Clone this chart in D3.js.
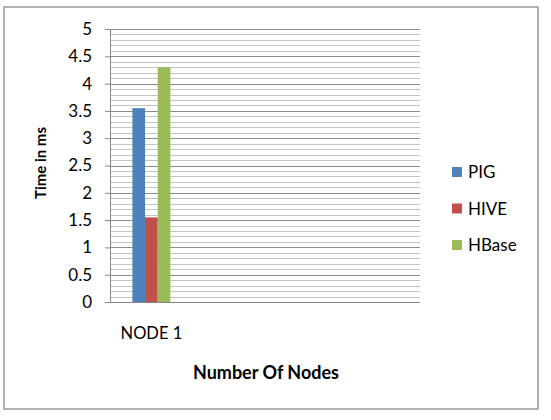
<!DOCTYPE html>
<html>
<head>
<meta charset="utf-8">
<script src="https://cdn.jsdelivr.net/npm/d3@7"></script>
<style>
  body { margin: 0; background: #fff; }
  text { font-family: Lato, "Open Sans", sans-serif; fill: #000; }
</style>
</head>
<body>
<div class="chart"></div>
<script>
// data
const categories = ["NODE 1"];
const seriesNames = ["PIG", "HIVE", "HBase"];
const pigValues = [3.55];
const hiveValues = [1.55];
const hbaseValues = [4.3];
const yTicks = [0, 0.5, 1, 1.5, 2, 2.5, 3, 3.5, 4, 4.5, 5];
const colors = ["#4F81BD", "#C0504D", "#9BBB59"];

const width = 551, height = 420;
const plot = { left: 110, right: 420, top: 29, bottom: 302 };
const slots = 4; // category slots on the axis, only the first one used

const svg = d3.select('.chart').append('svg')
  .attr('width', width).attr('height', height);

// outer frame
svg.append('rect')
  .attr('x', 4).attr('y', 7).attr('width', 534).attr('height', 402)
  .attr('fill', 'none').attr('stroke', '#999').attr('stroke-width', 1.5);

const yScale = d3.scaleLinear()
  .domain([0, 5])
  .range([plot.bottom, plot.top]);

const xSlot = d3.scaleBand()
  .domain(d3.range(slots))
  .range([113, plot.right]);

const xSeries = d3.scaleBand()
  .domain(seriesNames)
  .range([0, 38]);

// minor gridlines
const minor = d3.range(1, 50).map(i => i / 10).filter(v => Math.abs(v * 2 - Math.round(v * 2)) > 0.01);
svg.append('g').selectAll('line')
  .data(minor)
  .join('line')
  .attr('x1', plot.left).attr('x2', plot.right)
  .attr('y1', d => Math.round(yScale(d)) + 0.5)
  .attr('y2', d => Math.round(yScale(d)) + 0.5)
  .attr('stroke', '#c4c4c4')
  .attr('stroke-width', 1);

// major gridlines
svg.append('g').selectAll('line')
  .data(yTicks.slice(1))
  .join('line')
  .attr('x1', plot.left).attr('x2', plot.right)
  .attr('y1', d => Math.round(yScale(d)) + 0.5)
  .attr('y2', d => Math.round(yScale(d)) + 0.5)
  .attr('stroke', '#8c8c8c')
  .attr('stroke-width', 1.2);

// bars
const barData = [pigValues, hiveValues, hbaseValues];
barData.forEach((vals, s) => {
  svg.append('g').selectAll('rect')
    .data(vals)
    .join('rect')
    .attr('x', (d, i) => xSlot(i) + xSlot.bandwidth() / 2 - 19 + xSeries(seriesNames[s]))
    .attr('y', d => yScale(d))
    .attr('width', xSeries.bandwidth())
    .attr('height', d => yScale(0) - yScale(d))
    .attr('fill', colors[s]);
});

// y axis
const yAxis = d3.axisLeft(yScale)
  .tickValues(yTicks)
  .tickSize(5)
  .tickPadding(13)
  .tickFormat(d3.format(''));
const gy = svg.append('g')
  .attr('transform', 'translate(' + plot.left + ',0)')
  .call(yAxis);
gy.select('.domain').attr('stroke', '#888');
gy.selectAll('.tick line').attr('stroke', '#888');
gy.selectAll('.tick text')
  .style('font-size', '17px')
  .style('font-family', 'Lato, sans-serif')
  .attr('fill', '#000');

// x axis line
svg.append('line')
  .attr('x1', plot.left).attr('x2', plot.right)
  .attr('y1', plot.bottom + 0.5).attr('y2', plot.bottom + 0.5)
  .attr('stroke', '#888');

// category labels
svg.append('g').selectAll('text')
  .data(categories)
  .join('text')
  .attr('x', (d, i) => xSlot(i) + xSlot.bandwidth() / 2)
  .attr('y', 339)
  .attr('text-anchor', 'middle')
  .style('font-size', '16.5px')
  .text(d => d);

// axis titles
svg.append('text')
  .attr('x', (plot.left + plot.right) / 2 + 1)
  .attr('y', 379)
  .attr('text-anchor', 'middle')
  .style('font-size', '18px')
  .style('font-weight', 'bold')
  .text('Number Of Nodes');

svg.append('text')
  .attr('transform', 'translate(46,' + 163 + ') rotate(-90)')
  .attr('text-anchor', 'middle')
  .style('font-size', '15px')
  .style('font-weight', 'bold')
  .text('Time in ms');

// legend
const legend = svg.append('g').selectAll('g')
  .data(seriesNames)
  .join('g')
  .attr('transform', (d, i) => 'translate(452,' + (172 + i * 36.5) + ')');
legend.append('rect')
  .attr('x', 0).attr('y', -5).attr('width', 10).attr('height', 10)
  .attr('fill', (d, i) => colors[i]);
legend.append('text')
  .attr('x', 16).attr('y', 6)
  .style('font-size', '17px')
  .text(d => d);
</script>
</body>
</html>
